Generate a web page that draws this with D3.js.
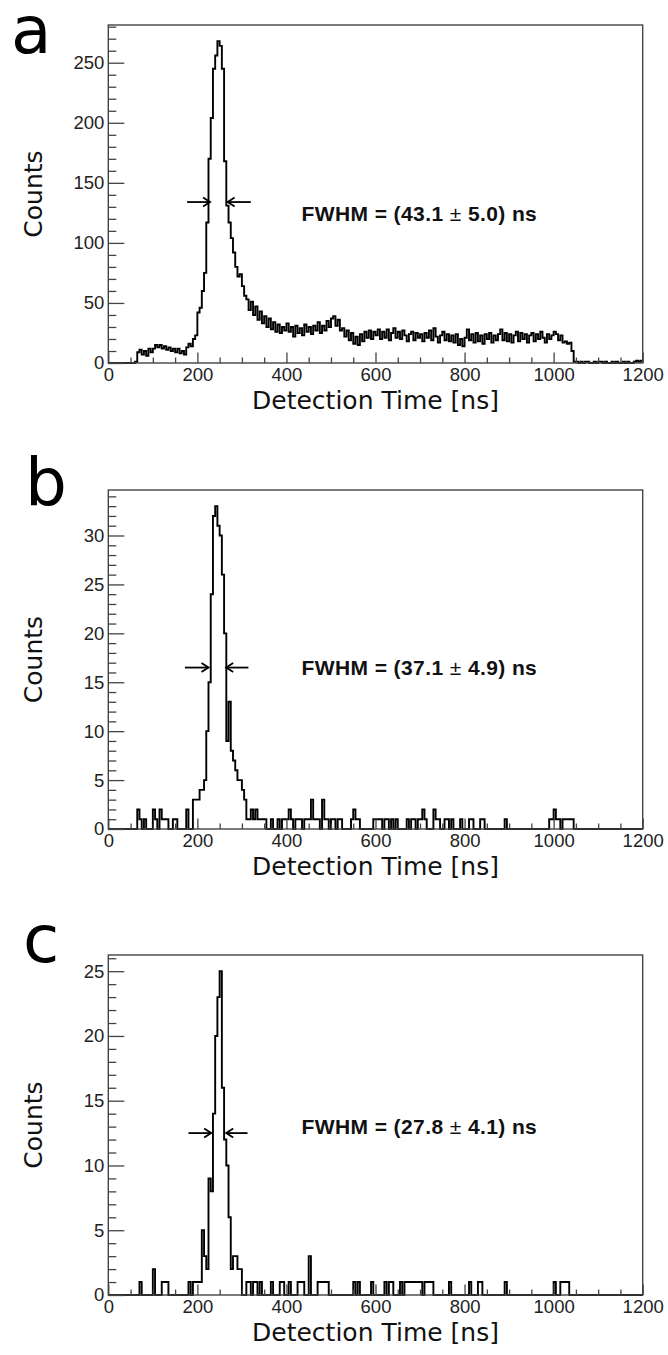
<!DOCTYPE html>
<html><head><meta charset="utf-8">
<script src="https://cdn.jsdelivr.net/npm/d3@7"></script>
<style>body{margin:0;background:#fff}</style>
</head><body>
<svg id="chart" width="668" height="1355"></svg>
<script>
// ---------- data ----------
const binWidth = 5;               // ns per bin, bins start at 0 ns
const xTicks = [0, 200, 400, 600, 800, 1000, 1200];
const xTitle = "Detection Time [ns]";
const yTitle = "Counts";

const countsA = [
  0,0,0,0,0,0,0,0,0,0,
  0,0,1,9,11,7,10,6,12,9,
  12,15,13,15,12,14,11,13,10,12,
  9,12,8,10,7,13,16,14,20,23,
  42,46,60,75,117,170,204,245,256,268,
  264,245,168,131,117,104,92,80,72,74,
  64,56,53,44,51,40,47,36,43,33,
  39,30,37,28,34,26,32,25,30,27,
  33,26,30,22,31,25,29,23,32,26,
  30,24,31,27,34,25,31,27,35,30,
  37,39,31,36,27,29,22,27,19,25,
  16,22,15,24,18,26,21,27,20,26,
  23,28,20,26,21,28,19,25,29,21,
  26,20,27,23,18,24,26,19,25,21,
  24,18,25,21,27,19,29,22,17,23,
  26,19,24,18,23,17,24,15,20,14,
  21,28,19,24,17,25,18,23,16,24,
  20,25,17,23,19,24,28,19,25,18,
  24,17,23,26,18,25,20,24,17,23,
  25,18,24,20,26,21,17,24,20,23,
  26,24,19,23,17,18,16,17,10,1,
  1,0,1,0,1,1,0,0,1,0,
  1,1,0,1,0,0,1,0,1,0,
  0,1,0,1,0,0,1,2,1,2
];
const countsB = [
  0,0,0,0,0,0,0,0,0,0,
  0,0,0,2,1,0,1,0,0,0,
  2,1,0,2,1,1,1,0,0,1,
  1,0,0,0,0,2,0,0,3,3,
  3,4,4,5,10,15,24,32,33,31,
  30,26,20,9,13,8,7,6,5,5,
  4,3,1,1,2,1,2,1,1,1,
  1,0,0,1,0,0,1,0,1,1,
  1,2,1,0,1,1,1,0,1,1,
  1,3,1,1,1,0,3,1,1,0,
  1,1,0,1,1,0,0,0,0,1,
  2,1,1,0,0,0,0,0,0,1,
  1,1,1,0,1,1,0,1,0,1,
  0,0,0,0,1,0,1,1,0,1,
  1,2,1,0,0,0,2,1,1,0,
  0,1,1,0,1,0,0,0,1,0,
  0,0,1,1,0,0,0,1,1,0,
  0,0,0,0,0,0,0,0,1,0,
  0,0,0,0,0,0,0,0,0,0,
  0,0,0,0,0,0,0,0,1,1,
  2,1,1,0,1,1,1,1,1,0,
  0,0,0,0,0,0,0,0,0,0,
  0,0,0,0,0,0,0,0,0,0,
  0,0,0,0,0,0,0,0,0,0
];
const countsC = [
  0,0,0,0,0,0,0,0,0,0,
  0,0,0,0,1,0,0,0,0,0,
  2,0,0,0,1,1,1,0,0,0,
  0,0,0,0,0,0,1,0,1,1,
  1,1,5,3,2,9,8,14,20,23,
  25,16,12,10,6,2,3,3,2,2,
  0,0,1,1,0,1,1,0,1,0,
  0,0,0,1,0,0,0,1,1,0,
  0,1,0,0,0,1,1,1,0,0,
  3,0,0,0,1,1,1,1,1,0,
  0,0,0,0,0,0,0,0,0,0,
  1,0,1,0,0,0,0,0,1,0,
  0,0,0,0,1,0,1,1,0,0,
  0,1,0,1,1,1,1,1,1,1,
  1,0,1,1,1,1,0,0,0,0,
  0,0,0,1,0,0,0,0,0,0,
  0,0,1,0,0,0,1,1,0,0,
  0,0,0,0,0,0,0,0,1,0,
  0,0,0,0,0,0,0,0,0,0,
  0,0,0,0,0,0,0,0,0,0,
  1,0,0,1,1,1,1,0,0,0,
  0,0,0,0,0,0,0,0,0,0,
  0,0,0,0,0,0,0,0,0,0,
  0,0,0,0,0,0,0,0,0,0
];

const yTicksA = [0, 50, 100, 150, 200, 250];
const yTicksB = [0, 5, 10, 15, 20, 25, 30];
const yTicksC = [0, 5, 10, 15, 20, 25];
const yMinorStep = [10, 1, 1];
const yMax = [281.4, 34.65, 26.25];          // ROOT: 1.05 x maximum
const panelLetters = ["a", "b", "c"];
const fwhmValue = ["43.1", "37.1", "27.8"];
const fwhmError = ["5.0", "4.9", "4.1"];
const fwhmHalfMax = [134, 16.5, 12.5];        // arrow height (counts)
const arrowLeft = [[177, 228.5], [172, 225], [180, 231]];      // [tail, tip] ns
const arrowRight = [[320, 268], [314.6, 264.7], [312.6, 264.7]]; // [tail, tip] ns
const fwhmTextX = 434;                        // ns
const fwhmTextY = [118.5, 15.75, 12.4];       // counts (baseline)

// ---------- layout ----------
const W = 668, H = 1355;
const left = 108.3, right = 642.7;
const tops = [25, 490, 955];
const bottoms = [363, 829, 1295];
const letterPos = [[11, 53], [25, 505], [23, 962]];

const svg = d3.select("#chart");
svg.append("rect").attr("width", W).attr("height", H).attr("fill", "#fff");

const allCounts = [countsA, countsB, countsC];
const allYTicks = [yTicksA, yTicksB, yTicksC];
const tickFont = "'Liberation Sans', Arial, Helvetica, sans-serif";
const titleFont = "'DejaVu Sans', Verdana, sans-serif";
const frameColor = "#444";

allCounts.forEach((counts, i) => {
  const g = svg.append("g");
  const x = d3.scaleLinear().domain([0, 1200]).range([left, right]);
  const y = d3.scaleLinear().domain([0, yMax[i]]).range([bottoms[i], tops[i]]);

  // histogram outline
  const pts = counts.map((c, k) => [k * binWidth, c]);
  pts.push([counts.length * binWidth, counts[counts.length - 1]]);
  const line = d3.line().x(d => x(d[0])).y(d => y(d[1])).curve(d3.curveStepAfter);
  g.append("path").attr("d", line(pts))
    .attr("fill", "none").attr("stroke", "#000").attr("stroke-width", 1.9)
    .attr("stroke-linejoin", "miter");

  // frame
  g.append("rect").attr("x", left).attr("y", tops[i])
    .attr("width", right - left).attr("height", bottoms[i] - tops[i])
    .attr("fill", "none").attr("stroke", frameColor).attr("stroke-width", 1.4);

  // x axis major
  const xa = g.append("g").attr("transform", `translate(0,${bottoms[i]})`)
    .call(d3.axisBottom(x).tickValues(xTicks).tickSize(-10.5).tickSizeOuter(0).tickPadding(5)
      .tickFormat(d3.format("d")));
  // x minor
  const xMinor = d3.range(0, 1201, 50).filter(v => v % 200 !== 0);
  const xm = g.append("g").attr("transform", `translate(0,${bottoms[i]})`)
    .call(d3.axisBottom(x).tickValues(xMinor).tickSize(-5.5).tickSizeOuter(0).tickFormat(""));
  // y axis major
  const ya = g.append("g").attr("transform", `translate(${left},0)`)
    .call(d3.axisLeft(y).tickValues(allYTicks[i]).tickSize(-16).tickSizeOuter(0).tickPadding(4)
      .tickFormat(d3.format("d")));
  const yMinor = d3.range(0, yMax[i], yMinorStep[i]).filter(v => !allYTicks[i].includes(v));
  const ym = g.append("g").attr("transform", `translate(${left},0)`)
    .call(d3.axisLeft(y).tickValues(yMinor).tickSize(-8).tickSizeOuter(0).tickFormat(""));

  [xa, xm, ya, ym].forEach(a => {
    a.select(".domain").remove();
    a.selectAll(".tick line").attr("stroke", frameColor).attr("stroke-width", 1.3);
    a.selectAll("text").attr("font-family", tickFont).attr("font-size", 18.5).attr("fill", "#222");
  });

  // axis titles
  g.append("text")
    .attr("transform", `translate(42,${(tops[i] + bottoms[i]) / 2}) rotate(-90)`)
    .attr("text-anchor", "middle").attr("font-family", titleFont).attr("font-size", 25)
    .attr("fill", "#111").text(yTitle);
  g.append("text")
    .attr("x", (left + right) / 2).attr("y", bottoms[i] + 46)
    .attr("text-anchor", "middle").attr("font-family", titleFont).attr("font-size", 25)
    .attr("fill", "#111").text(xTitle);

  // panel letter
  g.append("text").attr("x", letterPos[i][0]).attr("y", letterPos[i][1])
    .attr("font-family", titleFont).attr("font-size", 66).attr("fill", "#000")
    .text(panelLetters[i]);

  // FWHM arrows
  const ay = y(fwhmHalfMax[i]);
  [arrowLeft[i], arrowRight[i]].forEach(([tail, tip]) => {
    const x0 = x(tail), x1 = x(tip);
    const dir = Math.sign(x1 - x0);
    g.append("line").attr("x1", x0).attr("x2", x1).attr("y1", ay).attr("y2", ay)
      .attr("stroke", "#000").attr("stroke-width", 1.8);
    g.append("path")
      .attr("d", `M${x1 - dir * 7},${ay - 4.5}L${x1},${ay}L${x1 - dir * 7},${ay + 4.5}`)
      .attr("fill", "none").attr("stroke", "#000").attr("stroke-width", 1.8);
  });

  // FWHM text
  const t = g.append("text").attr("x", x(fwhmTextX)).attr("y", y(fwhmTextY[i]))
    .attr("font-family", tickFont).attr("font-size", 21).attr("font-weight", "bold")
    .attr("letter-spacing", 0.4).attr("fill", "#111");
  t.append("tspan").text(`FWHM = (${fwhmValue[i]} `);
  t.append("tspan").attr("font-weight", "normal").text("±");
  t.append("tspan").text(` ${fwhmError[i]}) ns`);
});
</script>
</body></html>
